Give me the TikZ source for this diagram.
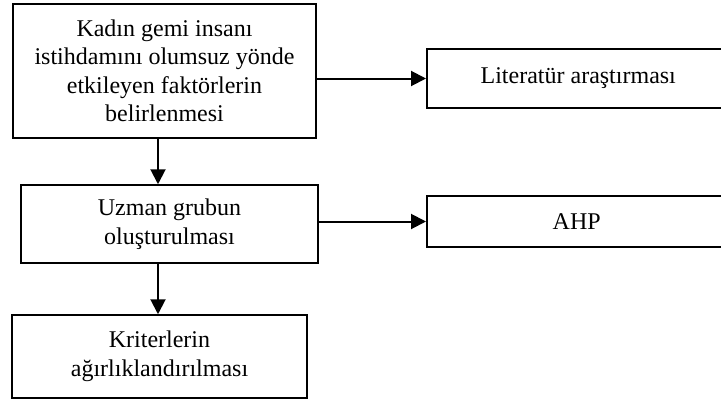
\documentclass[tikz,border=0pt]{standalone}
\usepackage{fontspec}
\setmainfont{Liberation Serif}
\usetikzlibrary{arrows.meta}
\begin{document}
\begin{tikzpicture}[x=1pt,y=-1pt,
  box/.style={draw, line width=1.5pt, rectangle, inner sep=0pt, align=center,
    font=\fontsize{24}{28.5}\selectfont},
  arr/.style={line width=2pt, -{Triangle[length=15pt,width=15pt]}}]
\useasboundingbox (0,0) rectangle (721,399);
\node[box, minimum width=303pt, minimum height=134pt] (b1) at (164.5,71)
  {Kadın gemi insanı\\istihdamını olumsuz yönde\\etkileyen faktörlerin\\belirlenmesi};
\node[box, minimum width=297pt, minimum height=78pt] (b2) at (169.5,224)
  {Uzman grubun\\oluşturulması};
\node[box, minimum width=295pt, minimum height=83pt] (b3) at (159.5,356.5)
  {Kriterlerin\\ağırlıklandırılması};
\node[box, minimum width=310pt, minimum height=59pt, anchor=west] (lit) at (426,78.5)
  {\hspace*{-7pt}Literatür araştırması};
\node[box, minimum width=310pt, minimum height=51pt, anchor=west] (ahp) at (426,221.5)
  {\hspace*{-10pt}AHP};
\coordinate (vx) at (158,0);
\draw[arr] (b1.east |- lit.west) -- (lit.west);
\draw[arr] (b2.east |- ahp.west) -- (ahp.west);
\draw[arr] (b1.south -| vx) -- (b2.north -| vx);
\draw[arr] (b2.south -| vx) -- (b3.north -| vx);
\end{tikzpicture}
\end{document}
